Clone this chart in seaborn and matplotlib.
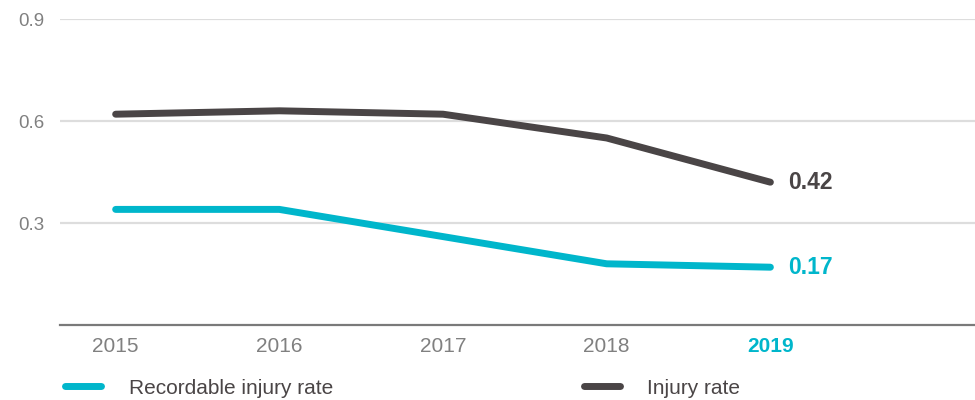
import matplotlib
matplotlib.use("Agg")
import matplotlib.pyplot as plt
import seaborn as sns
import pandas as pd

years = [2015, 2016, 2017, 2018, 2019]
recordable_injury_rate = [0.34, 0.34, 0.26, 0.18, 0.17]
injury_rate = [0.62, 0.63, 0.62, 0.55, 0.42]
series_names = ["Recordable injury rate", "Injury rate"]
y_ticks = [0.3, 0.6, 0.9]

CYAN = "#00B6CB"
DARK = "#4A4546"

df = pd.DataFrame({
    "year": years * 2,
    "value": recordable_injury_rate + injury_rate,
    "series": [series_names[0]] * len(years) + [series_names[1]] * len(years),
})

sns.set_theme(style="white")
plt.rcParams["font.family"] = ["Liberation Sans", "DejaVu Sans"]

fig = plt.figure(figsize=(9.75, 4.0), dpi=100)
ax = fig.add_axes([60 / 975, 1 - 325 / 400, 1 - 60 / 975, (325 - 19) / 400])

sns.lineplot(data=df, x="year", y="value", hue="series",
             palette={series_names[0]: CYAN, series_names[1]: DARK},
             linewidth=5.0, ax=ax, legend=False,
             solid_capstyle="round", solid_joinstyle="round")

ax.set_xlim(2014.66, 2020.25)
ax.set_ylim(0, 0.9)
ax.set_yticks(y_ticks)
ax.set_yticklabels([f"{t:.1f}" for t in y_ticks])
ax.set_xticks(years)
ax.set_xticklabels([str(y) for y in years])
ax.set_xlabel("")
ax.set_ylabel("")

for t in y_ticks:
    ax.axhline(t, color="#DDDDDD", linewidth=1.6, zorder=0)

for side in ["top", "right", "left"]:
    ax.spines[side].set_visible(False)
ax.spines["bottom"].set_color("#7A7A7A")
ax.spines["bottom"].set_linewidth(1.6)

ax.tick_params(axis="y", length=0, pad=11, labelsize=13.5, labelcolor="#808080")
ax.tick_params(axis="x", length=0, pad=9, labelsize=15, labelcolor="#808080")
last = ax.get_xticklabels()[-1]
last.set_color(CYAN)
last.set_fontweight("bold")

# end-of-line value labels
ax.annotate(f"{injury_rate[-1]:.2f}", (years[-1], injury_rate[-1]),
            xytext=(13, 0), textcoords="offset points", va="center", ha="left",
            fontsize=16.5, fontweight="bold", color=DARK)
ax.annotate(f"{recordable_injury_rate[-1]:.2f}", (years[-1], recordable_injury_rate[-1]),
            xytext=(13, 0), textcoords="offset points", va="center", ha="left",
            fontsize=16.5, fontweight="bold", color=CYAN)

handles = [
    plt.Line2D([], [], color=CYAN, linewidth=5.0, solid_capstyle="round"),
    plt.Line2D([], [], color=DARK, linewidth=5.0, solid_capstyle="round"),
]
fig.legend(handles, series_names, loc="center left",
           bbox_to_anchor=(65 / 975, 1 - 388 / 400), ncol=2, frameon=False,
           fontsize=15, labelcolor="#4A4546", handlelength=1.75,
           handletextpad=1.3, columnspacing=12.05, borderaxespad=0,
           borderpad=0)

fig.savefig("out.png", dpi=100)
